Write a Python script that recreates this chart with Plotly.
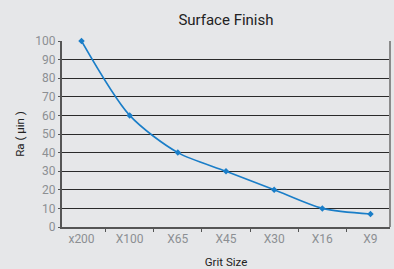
import plotly.graph_objects as go

categories = ["x200", "X100", "X65", "X45", "X30", "X16", "X9"]
ra_values = [100, 60, 40, 30, 20, 10, 7]
y_ticks = [0, 10, 20, 30, 40, 50, 60, 70, 80, 90, 100]

font_family = "Roboto, Liberation Sans, sans-serif"
bg = "#e6e7e9"

fig = go.Figure()
fig.add_trace(go.Scatter(
    x=categories, y=ra_values, mode="lines+markers",
    line=dict(color="#1a7ec8", width=1.6, shape="spline", smoothing=0.8),
    marker=dict(color="#1a7ec8", size=5, symbol="diamond"),
    showlegend=False, cliponaxis=False,
))

fig.update_layout(
    width=394, height=269,
    margin=dict(l=62, r=4, t=41, b=42, autoexpand=False),
    paper_bgcolor=bg, plot_bgcolor=bg,
    title=dict(text="Surface Finish", x=0.5735, xanchor="center", y=0.925, yanchor="middle",
               font=dict(family=font_family, size=15, color="#222")),
    font=dict(family=font_family),
)
fig.update_xaxes(
    type="category", tickson="boundaries", ticks="outside", ticklen=3, tickcolor="#555",
    tickfont=dict(size=12, color="#8c8f93"), showgrid=False, automargin=False,
    showline=True, linecolor="#555", linewidth=2, mirror=False,
    title=dict(text="Grit Size", font=dict(size=11.5, color="#222"), standoff=13),
)
fig.update_yaxes(
    range=[0, 100], tickvals=y_ticks, ticks="outside", ticklen=2, tickcolor="#555",
    tickfont=dict(size=12, color="#8c8f93"), automargin=False,
    showgrid=True, gridcolor="#2a2a2a", gridwidth=1,
    showline=True, linecolor="#555", linewidth=2, mirror=False, zeroline=False,
    title=dict(text="Ra ( µin )", font=dict(size=11.5, color="#222"), standoff=8),
)
fig.add_shape(type="line", xref="paper", yref="paper", x0=1, x1=1, y0=0, y1=1,
              line=dict(color="#8a8a8a", width=2))

fig.write_html(
    "out.html",
    config={"displayModeBar": False},
    post_script="document.body.style.margin='0';document.body.style.background='%s';" % bg,
)
